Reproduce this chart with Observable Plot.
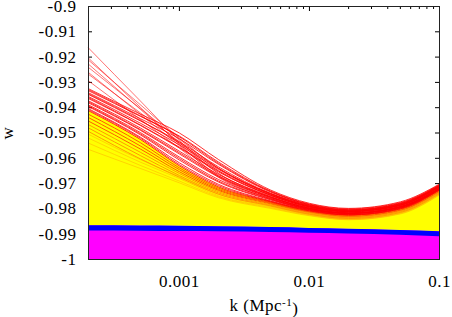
<!DOCTYPE html>
<html>
<head>
<meta charset="utf-8">
<script src="https://cdn.jsdelivr.net/npm/d3@7"></script>
<script src="https://cdn.jsdelivr.net/npm/@observablehq/plot@0.6"></script>
<style>
  html, body { margin: 0; padding: 0; background: white; }
  #chart svg text { font-family: "Liberation Serif", "Times New Roman", serif !important; font-size: 17px; letter-spacing: 0.5px; }
</style>
</head>
<body>
<div id="chart"></div>
<script>
// sample wavenumbers k (Mpc^-1)
const kValues = [0.0002, 0.0005, 0.001, 0.002, 0.005, 0.01, 0.02, 0.05, 0.1];

// magenta / blue band
const blueTop    = [-0.9867, -0.9868, -0.9869, -0.9871, -0.9874, -0.9877, -0.9880, -0.9885, -0.9890];
const blueBottom = [-0.9887, -0.9888, -0.9889, -0.9890, -0.9893, -0.9896, -0.9899, -0.9904, -0.9910];

// upper edge of the dense yellow region
const yellowTop  = [-0.9412, -0.9525, -0.9630, -0.9713, -0.9772, -0.9808, -0.9824, -0.9800, -0.9725];

// steep light-red curves starting high at the left
const redSteep = [
  [-0.9164, -0.9373, -0.9530, -0.9660, -0.9752, -0.9797, -0.9816, -0.9791, -0.9718],
  [-0.9204, -0.9398, -0.9545, -0.9672, -0.9758, -0.9800, -0.9818, -0.9793, -0.9720],
  [-0.9212, -0.9388, -0.9520, -0.9640, -0.9740, -0.9788, -0.9808, -0.9782, -0.9710],
  [-0.9228, -0.9406, -0.9540, -0.9660, -0.9748, -0.9792, -0.9811, -0.9786, -0.9713],
  [-0.9241, -0.9403, -0.9525, -0.9640, -0.9738, -0.9786, -0.9806, -0.9780, -0.9709],
  [-0.9261, -0.9426, -0.9550, -0.9668, -0.9755, -0.9798, -0.9816, -0.9790, -0.9717],
  [-0.9268, -0.9420, -0.9535, -0.9650, -0.9745, -0.9790, -0.9809, -0.9784, -0.9712],
  [-0.9294, -0.9446, -0.9560, -0.9676, -0.9760, -0.9802, -0.9820, -0.9795, -0.9721]
];

// dense red bundle
const redDense = [
  [-0.9325, -0.9425, -0.9500, -0.9605, -0.9725, -0.9778, -0.9798, -0.9772, -0.9702],
  [-0.9333, -0.9434, -0.9512, -0.9615, -0.9729, -0.9781, -0.9800, -0.9775, -0.9704],
  [-0.9341, -0.9443, -0.9523, -0.9624, -0.9733, -0.9783, -0.9803, -0.9777, -0.9706],
  [-0.9348, -0.9452, -0.9535, -0.9634, -0.9738, -0.9786, -0.9805, -0.9780, -0.9708],
  [-0.9356, -0.9461, -0.9547, -0.9644, -0.9742, -0.9789, -0.9807, -0.9782, -0.9710],
  [-0.9364, -0.9470, -0.9559, -0.9654, -0.9746, -0.9792, -0.9810, -0.9785, -0.9712],
  [-0.9373, -0.9480, -0.9572, -0.9664, -0.9751, -0.9795, -0.9812, -0.9787, -0.9715],
  [-0.9381, -0.9489, -0.9583, -0.9674, -0.9755, -0.9797, -0.9815, -0.9790, -0.9717],
  [-0.9389, -0.9498, -0.9595, -0.9684, -0.9759, -0.9800, -0.9817, -0.9792, -0.9719],
  [-0.9396, -0.9507, -0.9607, -0.9694, -0.9764, -0.9803, -0.9819, -0.9795, -0.9721],
  [-0.9404, -0.9516, -0.9618, -0.9703, -0.9768, -0.9805, -0.9822, -0.9797, -0.9723],
  [-0.9412, -0.9525, -0.9630, -0.9713, -0.9772, -0.9808, -0.9824, -0.9800, -0.9725],
  [-0.9329, -0.9432, -0.9515, -0.9620, -0.9731, -0.9784, -0.9804, -0.9779, -0.9707],
  [-0.9345, -0.9450, -0.9540, -0.9640, -0.9740, -0.9790, -0.9809, -0.9784, -0.9711],
  [-0.9360, -0.9468, -0.9556, -0.9650, -0.9745, -0.9793, -0.9811, -0.9786, -0.9713],
  [-0.9377, -0.9486, -0.9578, -0.9670, -0.9753, -0.9798, -0.9816, -0.9791, -0.9718],
  [-0.9393, -0.9503, -0.9601, -0.9690, -0.9762, -0.9802, -0.9818, -0.9794, -0.9720],
  [-0.9408, -0.9520, -0.9625, -0.9708, -0.9770, -0.9806, -0.9823, -0.9798, -0.9724]
];

// orange curves just below the red bundle
const orangeLines = [
  [-0.9426, -0.9538, -0.9638, -0.9718, -0.9775, -0.9810, -0.9826, -0.9802, -0.9727],
  [-0.9439, -0.9551, -0.9645, -0.9723, -0.9777, -0.9812, -0.9829, -0.9805, -0.9730],
  [-0.9453, -0.9563, -0.9653, -0.9727, -0.9780, -0.9814, -0.9831, -0.9807, -0.9732],
  [-0.9467, -0.9576, -0.9660, -0.9732, -0.9783, -0.9816, -0.9833, -0.9809, -0.9734],
  [-0.9480, -0.9589, -0.9668, -0.9737, -0.9786, -0.9819, -0.9835, -0.9811, -0.9736],
  [-0.9494, -0.9602, -0.9675, -0.9742, -0.9788, -0.9821, -0.9838, -0.9814, -0.9739]
];

// faint amber streaks inside the yellow region
const amberLines = [
  [-0.9505, -0.9605, -0.9672, -0.9742, -0.9789, -0.9821, -0.9838, -0.9814, -0.9739],
  [-0.9520, -0.9615, -0.9680, -0.9748, -0.9792, -0.9823, -0.9840, -0.9816, -0.9741],
  [-0.9540, -0.9628, -0.9690, -0.9752, -0.9795, -0.9825, -0.9842, -0.9818, -0.9743],
  [-0.9565, -0.9640, -0.9697, -0.9756, -0.9798, -0.9827, -0.9843, -0.9820, -0.9745]
];

// ticks
const yTicks = [-1, -0.99, -0.98, -0.97, -0.96, -0.95, -0.94, -0.93, -0.92, -0.91, -0.9];
const xTicks = [0.001, 0.01, 0.1];
const xMinorTicks = [0.0003, 0.0004, 0.0005, 0.0006, 0.0007, 0.0008, 0.0009,
                     0.002, 0.003, 0.004, 0.005, 0.006, 0.007, 0.008, 0.009,
                     0.02, 0.03, 0.04, 0.05, 0.06, 0.07, 0.08, 0.09];
const xLabel = "k (Mpc-1)";
const yLabel = "w";

// tables for the library
const bands = kValues.map((k, i) => ({k, blueTop: blueTop[i], blueBottom: blueBottom[i], yellowTop: yellowTop[i]}));
const toRows = (set, name) => set.flatMap((vals, j) => vals.map((w, i) => ({k: kValues[i], w, id: name + j})));
const steepRows = toRows(redSteep, "s");
const denseRows = toRows(redDense, "d");
const orangeRows = toRows(orangeLines, "o");
const amberRows = toRows(amberLines, "a");

const W = 452, H = 317;
const mL = 88, mR = 13, mT = 6, mB = 58;
const fw = W - mL - mR, fh = H - mT - mB;

const svg = Plot.plot({
  width: W, height: H,
  marginLeft: mL, marginRight: mR, marginTop: mT, marginBottom: mB,
  x: {type: "log", domain: [0.0002, 0.1]},
  y: {domain: [-1, -0.9]},
  style: {background: "white", color: "black"},
  marks: [
    // inward ticks drawn first (fills cover them like the original)
    Plot.tickY(yTicks, {y: d => d, insetRight: fw - 4, stroke: "black"}),
    Plot.tickY(yTicks, {y: d => d, insetLeft: fw - 4, stroke: "black"}),
    Plot.tickX(xTicks, {x: d => d, insetBottom: fh - 5, stroke: "black"}),
    Plot.tickX(xMinorTicks, {x: d => d, insetBottom: fh - 3, stroke: "black"}),
    Plot.tickX(xTicks, {x: d => d, insetTop: fh - 5, stroke: "black"}),
    Plot.tickX(xMinorTicks, {x: d => d, insetTop: fh - 3, stroke: "black"}),
    // fills
    Plot.areaY(bands, {x: "k", y1: -1, y2: "blueTop", fill: "#ff00ff", curve: "monotone-x"}),
    Plot.areaY(bands, {x: "k", y1: "blueTop", y2: "yellowTop", fill: "#ffff00", curve: "monotone-x"}),
    Plot.areaY(bands, {x: "k", y1: "blueBottom", y2: "blueTop", fill: "#0000ff", curve: "monotone-x"}),
    // curves
    Plot.line(amberRows, {x: "k", y: "w", z: "id", stroke: "#ffb000", strokeOpacity: 0.55, strokeWidth: 1, curve: "monotone-x"}),
    Plot.line(orangeRows, {x: "k", y: "w", z: "id", stroke: (d) => d.id < "o3" ? "#ff5a00" : "#ff9a00", strokeWidth: 1, curve: "monotone-x"}),
    Plot.line(denseRows, {x: "k", y: "w", z: "id", stroke: "#ff0000", strokeOpacity: 0.8, strokeWidth: 1, curve: "monotone-x"}),
    Plot.line(steepRows, {x: "k", y: "w", z: "id", stroke: "#ff0000", strokeOpacity: 0.55, strokeWidth: 1, curve: "monotone-x"}),
    Plot.frame({stroke: "#222", strokeWidth: 1}),
    // axes (labels only)
    Plot.axisY(yTicks, {tickSize: 0, tickPadding: 12, tickFormat: d => String(+d.toFixed(2)), label: null}),
    Plot.axisX(xTicks, {tickSize: 0, tickPadding: 15, tickFormat: d => String(d), label: null}),
    Plot.text([xLabel], {text: d => d, frameAnchor: "bottom", dy: 46, lineAnchor: "middle", textAnchor: "middle", fill: "black"}),
    Plot.text([yLabel], {text: d => d, frameAnchor: "left", dx: -81, rotate: -90, lineAnchor: "middle", textAnchor: "middle", fill: "black"})
  ]
});

// superscript for the unit
d3.select(svg).selectAll("text").filter(function() { return this.textContent === xLabel; }).each(function() {
  const t = d3.select(this);
  t.text(null);
  t.append("tspan").text("k (Mpc");
  t.append("tspan").attr("dy", "-0.45em").style("font-size", "11px").text("-1");
  t.append("tspan").attr("dy", "0.45em").text(")");
});

document.getElementById("chart").appendChild(svg);
</script>
</body>
</html>
